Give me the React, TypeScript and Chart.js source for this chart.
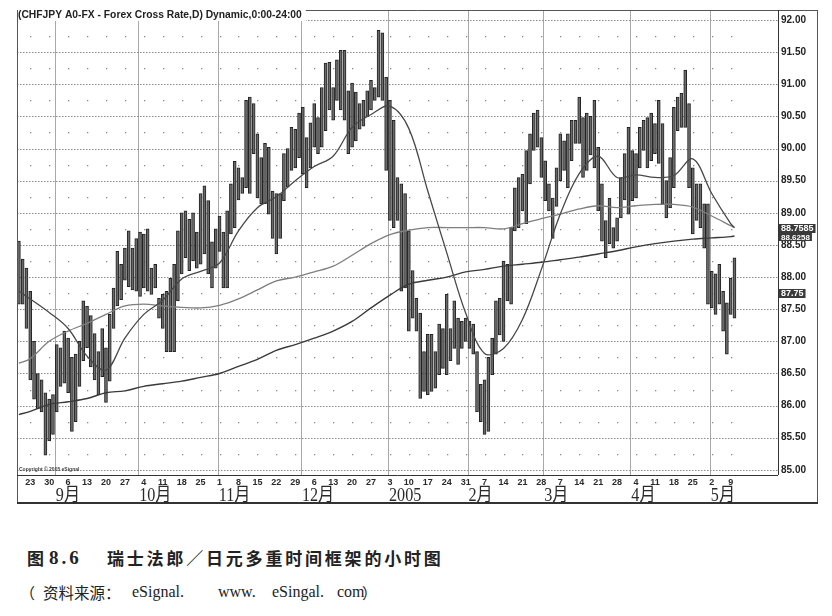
import React, { useEffect, useRef } from 'react';
import { Chart, registerables } from 'chart.js';

Chart.register(...registerables);

// ---------- data ----------
const firstDay = '2004-08-18';
const axisDayCount = 201; // trading days on the axis (data + empty room on the right)

const highs = [
  88.56, 88.28, 88.14, 87.78, 87.0, 86.5, 86.4, 86.2, 86.1, 86.17,
  86.95, 86.9, 87.16, 87.05, 86.75, 86.8, 87.0, 87.63, 87.55, 87.4,
  87.12, 86.84, 87.2, 86.9, 87.42, 87.83, 88.4, 88.2, 88.45, 88.72,
  88.45, 88.6, 88.7, 88.67, 88.75, 88.14, 88.2, 87.67, 87.73, 87.78,
  87.98, 88.2, 88.72, 89.0, 89.03, 88.9, 89.0, 88.7, 89.3, 89.42,
  89.19, 88.55, 88.75, 88.95, 88.7, 89.03, 89.45, 89.8, 89.7, 89.55,
  90.75, 90.8, 90.7, 90.23, 89.86, 90.08, 90.02, 89.34, 89.3, 89.3,
  89.92, 90.0, 90.33, 90.3, 90.55, 90.64, 90.17, 90.4, 90.7, 90.48,
  90.95, 91.33, 91.34, 90.95, 91.38, 91.53, 91.53, 90.9, 91.02, 90.88,
  90.7, 90.75, 90.9, 91.06, 90.95, 91.84, 91.8, 91.11, 90.75, 90.44,
  89.55, 89.45, 89.3, 88.72, 88.1, 87.67, 87.44, 86.84, 87.11, 87.11,
  86.84, 87.27, 87.2, 87.73, 87.2, 87.63, 87.36, 87.31, 87.36, 87.31,
  87.27, 86.84, 86.33, 86.4, 86.75, 87.05, 87.63, 87.67, 88.25, 88.2,
  88.77, 89.39, 89.55, 89.6, 89.97, 90.23, 90.55, 90.6, 90.17, 89.81,
  89.45, 89.23, 89.7, 90.23, 90.12, 90.23, 90.44, 90.44, 90.8, 90.48,
  90.55, 90.5, 90.75, 90.02, 89.45, 88.88, 89.23, 88.77, 88.92, 89.55,
  89.92, 90.33, 89.97, 89.92, 90.33, 90.44, 90.48, 90.55, 90.39, 90.75,
  90.39, 89.5, 89.86, 90.64, 90.8, 90.86, 91.22, 90.7, 89.7, 89.45,
  89.45, 89.14, 89.14, 88.09, 88.05, 88.2, 87.78, 87.6, 87.98, 88.3,
];

const lows = [
  87.58, 87.58, 87.2, 86.4, 86.1, 85.95, 85.9, 85.23, 85.45, 85.55,
  85.9, 86.3, 86.35, 86.2, 85.6, 85.75, 86.3, 86.7, 86.9, 86.6,
  86.4, 86.17, 86.45, 86.05, 86.38, 87.2, 87.55, 87.65, 87.95, 87.85,
  87.8, 87.78, 87.7, 87.83, 87.78, 87.73, 87.83, 87.36, 87.2, 86.84,
  86.84, 86.84, 87.63, 88.05, 88.3, 88.1, 88.25, 88.14, 88.2, 88.36,
  88.05, 87.83, 88.14, 88.4, 87.83, 87.83, 88.67, 88.77, 89.2, 89.3,
  89.39, 89.3, 89.92, 89.23, 89.14, 89.14, 88.98, 88.6, 88.36, 88.6,
  89.19, 89.4, 89.66, 89.7, 89.86, 89.61, 89.39, 89.7, 90.02, 89.92,
  90.02, 90.28, 90.6, 90.44, 90.75, 90.6, 90.44, 89.92, 90.02, 90.12,
  90.3, 90.35, 90.5, 90.6, 90.75, 90.8, 90.75, 89.66, 88.88, 88.77,
  88.88, 87.78, 87.83, 87.16, 87.36, 87.16, 86.11, 86.22, 86.17, 86.22,
  86.27, 86.48, 86.58, 86.48, 86.7, 86.89, 86.64, 86.89, 87.0, 86.89,
  86.8, 85.9, 85.75, 85.55, 85.6, 86.48, 86.8, 87.1, 87.0, 87.63,
  87.58, 88.72, 88.77, 89.03, 88.83, 89.45, 89.97, 90.02, 89.55, 89.19,
  89.03, 88.6, 89.1, 89.5, 89.66, 89.39, 89.81, 90.08, 90.08, 89.55,
  89.66, 89.9, 89.7, 89.03, 88.56, 88.3, 88.52, 88.45, 88.56, 88.92,
  89.2, 88.98, 89.19, 89.23, 89.7, 89.97, 89.7, 89.81, 89.92, 89.77,
  89.14, 88.92, 89.08, 89.39, 90.28, 90.33, 90.33, 89.39, 88.67, 88.88,
  88.77, 88.45, 87.58, 87.52, 87.42, 87.58, 87.16, 86.8, 87.42, 87.36,
];

const maDates = [
  '2004-08-18', '2004-08-23', '2004-08-30', '2004-09-06', '2004-09-13', '2004-09-20', '2004-09-27',
  '2004-10-04', '2004-10-11', '2004-10-18', '2004-10-25', '2004-11-01', '2004-11-08', '2004-11-15',
  '2004-11-22', '2004-11-29', '2004-12-06', '2004-12-13', '2004-12-20', '2004-12-27', '2005-01-03',
  '2005-01-10', '2005-01-17', '2005-01-24', '2005-01-31', '2005-02-07', '2005-02-14', '2005-02-21',
  '2005-02-28', '2005-03-07', '2005-03-14', '2005-03-21', '2005-03-28', '2005-04-04', '2005-04-11',
  '2005-04-18', '2005-04-25', '2005-05-02', '2005-05-09', '2005-05-10',
];

const maFast = [
  87.78, 87.66, 87.45, 87.2, 86.77, 86.55, 87.05, 87.42, 87.64, 87.97,
  88.09, 88.22, 88.72, 89.08, 89.25, 89.5, 89.72, 89.88, 90.33, 90.53,
  90.66, 90.31, 89.34, 88.38, 87.44, 86.81, 86.89, 87.34, 88.12, 88.98,
  89.61, 89.88, 89.55, 89.59, 89.55, 89.58, 89.84, 89.3, 88.83, 88.77,
];

const maMid = [
  86.66, 86.73, 87.0, 87.16, 87.28, 87.42, 87.55, 87.58, 87.55, 87.53,
  87.52, 87.56, 87.66, 87.8, 87.94, 88.0, 88.08, 88.17, 88.34, 88.52,
  88.66, 88.73, 88.77, 88.77, 88.77, 88.77, 88.75, 88.83, 88.91, 88.98,
  89.06, 89.11, 89.08, 89.11, 89.13, 89.13, 89.09, 88.95, 88.8, 88.77,
];

const maSlow = [
  85.86, 85.91, 86.02, 86.06, 86.11, 86.2, 86.23, 86.3, 86.34, 86.38,
  86.44, 86.5, 86.61, 86.72, 86.86, 86.95, 87.05, 87.16, 87.31, 87.52,
  87.72, 87.89, 87.95, 88.0, 88.08, 88.12, 88.17, 88.2, 88.23, 88.27,
  88.31, 88.36, 88.41, 88.47, 88.52, 88.56, 88.59, 88.61, 88.63, 88.64,
];

const yTickValues = [85, 85.5, 86, 86.5, 87, 87.5, 88, 88.5, 89, 89.5, 90, 90.5, 91, 91.5, 92];
const monthLabels = ['9月', '10月', '11月', '12月', '2005', '2月', '3月', '4月', '5月'];
const priceTags = ['88.7585', '88.6258', '87.75'];
const headerText = '(CHFJPY A0-FX - Forex Cross Rate,D) Dynamic,0:00-24:00';
const copyrightText = 'Copyright © 2005 eSignal';

// ---------- helpers ----------
function buildDays(start: string, count: number): string[] {
  const out: string[] = [];
  const d = new Date(start + 'T00:00:00Z');
  while (out.length < count) {
    const wd = d.getUTCDay();
    if (wd !== 0 && wd !== 6) out.push(d.toISOString().slice(0, 10));
    d.setUTCDate(d.getUTCDate() + 1);
  }
  return out;
}

const days = buildDays(firstDay, axisDayCount);
const SANS = '"Liberation Sans", Arial, sans-serif';

function isMonday(s: string) {
  return new Date(s + 'T00:00:00Z').getUTCDay() === 1;
}

const decorPlugin = {
  id: 'decor',
  beforeDatasetsDraw(chart: any) {
    const { ctx, chartArea } = chart;
    const { left, right, top, bottom } = chartArea;
    const xs = chart.scales.x;
    const ys = chart.scales.y;
    const step = xs.getPixelForValue(1) - xs.getPixelForValue(0);
    ctx.save();
    // month boundary lines
    ctx.strokeStyle = '#a8a8a8';
    ctx.lineWidth = 1;
    for (let i = 1; i < highs.length; i++) {
      if (days[i].slice(5, 7) !== days[i - 1].slice(5, 7)) {
        const bx = Math.round(xs.getPixelForValue(i) - step / 2) + 0.5;
        ctx.beginPath();
        ctx.moveTo(bx, top);
        ctx.lineTo(bx, bottom);
        ctx.stroke();
      }
    }
    // dotted horizontal grid
    ctx.strokeStyle = '#8a8a8a';
    ctx.setLineDash([1.5, 1.5]);
    yTickValues.forEach((v) => {
      const py = Math.round(ys.getPixelForValue(v)) + 0.5;
      ctx.beginPath();
      ctx.moveTo(left, py);
      ctx.lineTo(right, py);
      ctx.stroke();
    });
    ctx.setLineDash([]);
    // weekly dots on quarter levels
    ctx.fillStyle = '#8a8a8a';
    for (let i = 0; i < highs.length; i++) {
      if (!isMonday(days[i])) continue;
      const px = Math.round(xs.getPixelForValue(i));
      for (let k = 0; k < yTickValues.length - 1; k++) {
        const v = (yTickValues[k] + yTickValues[k + 1]) / 2;
        const py = Math.round(ys.getPixelForValue(v));
        ctx.fillRect(px, py, 1.3, 1.3);
      }
    }
    ctx.restore();
  },
  afterDraw(chart: any) {
    const { ctx, chartArea } = chart;
    const { left, right, top, bottom } = chartArea;
    const xs = chart.scales.x;
    const ys = chart.scales.y;
    const step = xs.getPixelForValue(1) - xs.getPixelForValue(0);
    const W = chart.width;
    const outerRight = W - 14.5;
    const frameBottom = 503;
    ctx.save();
    // frame
    ctx.strokeStyle = '#555';
    ctx.lineWidth = 1;
    ctx.beginPath();
    ctx.moveTo(left + 0.5, top);
    ctx.lineTo(left + 0.5, frameBottom);
    ctx.moveTo(left, top + 0.5);
    ctx.lineTo(outerRight, top + 0.5);
    ctx.moveTo(outerRight, top);
    ctx.lineTo(outerRight, frameBottom);
    ctx.stroke();
    ctx.strokeStyle = '#333';
    ctx.beginPath();
    ctx.moveTo(right + 0.5, top);
    ctx.lineTo(right + 0.5, bottom);
    ctx.moveTo(left, bottom + 0.5);
    ctx.lineTo(right, bottom + 0.5);
    ctx.stroke();
    ctx.lineWidth = 2;
    ctx.beginPath();
    ctx.moveTo(left, frameBottom);
    ctx.lineTo(outerRight + 0.5, frameBottom);
    ctx.stroke();

    // header
    ctx.font = 'bold 10.3px ' + SANS;
    const hw = ctx.measureText(headerText).width;
    ctx.fillStyle = '#fff';
    ctx.fillRect(left + 1, top - 2, hw + 4, 13);
    ctx.fillStyle = '#222';
    ctx.textAlign = 'left';
    ctx.textBaseline = 'middle';
    ctx.fillText(headerText, left + 1, top + 5.5);

    // copyright
    ctx.font = 'bold 5px ' + SANS;
    ctx.fillStyle = '#444';
    ctx.fillText(copyrightText, left + 2, bottom - 5);

    // month labels
    ctx.fillStyle = '#2a2a2a';
    ctx.textBaseline = 'alphabetic';
    ctx.font = '19px "Liberation Serif", "Noto Sans CJK SC", serif';
    let k = 0;
    for (let i = 1; i < highs.length; i++) {
      if (days[i].slice(5, 7) !== days[i - 1].slice(5, 7)) {
        const bx = xs.getPixelForValue(i) - step / 2;
        ctx.save();
        ctx.translate(bx + 1, 501);
        ctx.scale(0.85, 1);
        ctx.fillText(monthLabels[k] || '', 0, 0);
        ctx.restore();
        k++;
      }
    }

    // price tags on the right axis
    priceTags.forEach((t, idx) => {
      const v = parseFloat(t);
      const py = ys.getPixelForValue(v);
      const small = idx === 1;
      ctx.font = (small ? 'bold 8px ' : 'bold 9px ') + SANS;
      const w = ctx.measureText(t).width + 4;
      const h = small ? 8 : 9;
      ctx.fillStyle = '#3a3a3a';
      ctx.fillRect(right + 1, Math.round(py - h / 2), w, h);
      ctx.fillStyle = '#fff';
      ctx.textBaseline = 'middle';
      ctx.fillText(t, right + 3, py + 0.5);
    });
    ctx.restore();
  },
};

export default function App() {
  const ref = useRef<HTMLCanvasElement | null>(null);

  useEffect(() => {
    if (!ref.current) return;
    const bars = highs.map((h, i) => [lows[i], h]);
    const line = (vals: number[]) => maDates.map((d, i) => ({ x: d, y: vals[i] }));
    const chart = new Chart(ref.current, {
      data: {
        labels: days,
        datasets: [
          {
            type: 'line',
            data: line(maFast),
            borderColor: '#484848',
            borderWidth: 1.3,
            pointRadius: 0,
            tension: 0.35,
            order: 1,
          },
          {
            type: 'line',
            data: line(maMid),
            borderColor: '#7e7e7e',
            borderWidth: 1.3,
            pointRadius: 0,
            tension: 0.35,
            order: 1,
          },
          {
            type: 'line',
            data: line(maSlow),
            borderColor: '#3a3a3a',
            borderWidth: 1.4,
            pointRadius: 0,
            tension: 0.35,
            order: 1,
          },
          {
            type: 'bar',
            data: bars,
            backgroundColor: '#6a6a6a',
            borderColor: '#222',
            borderWidth: 1,
            borderSkipped: false,
            barThickness: 3,
            order: 2,
          },
        ],
      } as any,
      options: {
        animation: false,
        responsive: false,
        maintainAspectRatio: false,
        events: [],
        layout: { padding: { left: 17, right: 14, top: 10, bottom: 12 } },
        plugins: { legend: { display: false }, tooltip: { enabled: false } },
        scales: {
          x: {
            type: 'category',
            offset: true,
            grid: { display: false, drawTicks: false },
            border: { display: false },
            ticks: {
              autoSkip: false,
              maxRotation: 0,
              minRotation: 0,
              padding: 2,
              color: '#2a2a2a',
              font: { family: SANS, size: 9, weight: 'bold' },
              callback: (_v: any, i: number) => {
                if (i >= highs.length) return '';
                const s = days[i];
                return isMonday(s) ? String(new Date(s + 'T00:00:00Z').getUTCDate()) : '';
              },
            },
            afterFit: (s: any) => {
              s.height = 28;
            },
          },
          y: {
            position: 'right',
            min: 84.92,
            max: 92.156,
            afterBuildTicks: (s: any) => {
              s.ticks = yTickValues.map((v) => ({ value: v }));
            },
            grid: { display: false, drawTicks: false },
            border: { display: false },
            ticks: {
              padding: 3,
              color: '#222',
              font: { family: SANS, size: 10, weight: 'bold' },
              callback: (v: any) => Number(v).toFixed(2),
            },
            afterFit: (s: any) => {
              s.width = 40;
            },
          },
        },
      } as any,
      plugins: [decorPlugin],
    });
    return () => chart.destroy();
  }, []);

  const cjk = '"Noto Sans CJK SC", sans-serif';
  const serif = '"Liberation Serif", "Noto Sans CJK SC", serif';
  const abs = (left: number, top: number, font: string, extra: any = {}) => ({
    position: 'absolute' as const,
    left,
    top,
    font,
    color: '#222',
    whiteSpace: 'nowrap' as const,
    ...extra,
  });

  return (
    <div style={{ position: 'fixed', left: 0, top: 0, width: 832, height: 616, background: '#fff', overflow: 'hidden' }}>
      <canvas ref={ref} width={832} height={515} style={{ display: 'block', width: 832, height: 515 }} />
      <div style={abs(27, 549, `bold 17px/17px ${cjk}`)}>图</div>
      <div style={abs(49, 548, `bold 19px/19px ${serif}`, { letterSpacing: '3px' })}>8.6</div>
      <div style={abs(107, 549, `bold 17px/17px ${cjk}`, { letterSpacing: '2.8px' })}>瑞士法郎／日元多重时间框架的小时图</div>
      <div style={abs(20, 585, `15px/15px ${cjk}`)}>（</div>
      <div style={abs(43, 585, `15.5px/15px ${cjk}`)}>资料来源：</div>
      <div style={abs(132, 583, `16px/18px ${serif}`)}>eSignal.</div>
      <div style={abs(218, 583, `16px/18px ${serif}`)}>www.</div>
      <div style={abs(272, 583, `16px/18px ${serif}`)}>eSingal.</div>
      <div style={abs(337, 583, `16px/18px ${serif}`)}>com</div>
      <div style={abs(362, 585, `15px/15px ${cjk}`)}>）</div>
    </div>
  );
}
